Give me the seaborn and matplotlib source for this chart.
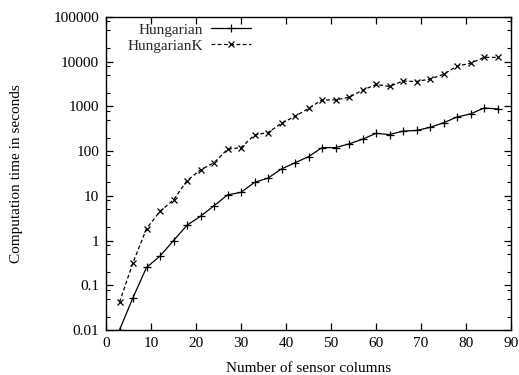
import matplotlib
matplotlib.use("Agg")
import matplotlib.pyplot as plt
import seaborn as sns
import pandas as pd
from matplotlib.ticker import LogLocator, FixedLocator, NullFormatter

columns = [3, 6, 9, 12, 15, 18, 21, 24, 27, 30, 33, 36, 39, 42, 45, 48, 51, 54,
           57, 60, 63, 66, 69, 72, 75, 78, 81, 84, 87]
hungarian = [0.01, 0.053, 0.25, 0.45, 1.0, 2.2, 3.5, 6.0, 10.5, 12, 20, 25, 40,
             55, 75, 120, 120, 145, 185, 250, 235, 280, 290, 340, 430, 580, 680,
             920, 880]
hungarian_k = [0.042, 0.32, 1.85, 4.5, 8.1, 22, 38, 55, 110, 120, 230, 260, 420,
               600, 900, 1400, 1400, 1600, 2300, 3100, 2800, 3700, 3600, 4100,
               5200, 8000, 9200, 12500, 12500]
series_names = ["Hungarian", "HungarianK"]
x_ticks = [0, 10, 20, 30, 40, 50, 60, 70, 80, 90]
y_ticks = [0.01, 0.1, 1, 10, 100, 1000, 10000, 100000]
y_tick_labels = ["0.01", "0.1", "1", "10", "100", "1000", "10000", "100000"]

sns.set_theme(style="ticks")
plt.rcParams["font.family"] = ["Liberation Serif", "DejaVu Serif"]
plt.rcParams["font.size"] = 11

fig = plt.figure(figsize=(5.19, 3.75), dpi=100)
ax = fig.add_axes([106/519, 1-330/375, (511-106)/519, (330-17)/375])

df1 = pd.DataFrame({"x": columns, "y": hungarian})
df2 = pd.DataFrame({"x": columns, "y": hungarian_k})
sns.lineplot(data=df1, x="x", y="y", ax=ax, color="black", lw=0.9,
             marker="+", markersize=5.5, markeredgewidth=0.9, markeredgecolor="black",
             label=series_names[0])
sns.lineplot(data=df2, x="x", y="y", ax=ax, color="black", lw=0.9,
             linestyle=(0, (3, 2)), marker="x", markersize=4.5, markeredgewidth=0.9,
             markeredgecolor="black", label=series_names[1])

ax.set_yscale("log")
ax.set_xlim(0, 90)
ax.set_ylim(0.01, 100000)
ax.xaxis.set_major_locator(FixedLocator(x_ticks))
ax.set_xticklabels([str(t) for t in x_ticks])
ax.yaxis.set_major_locator(FixedLocator(y_ticks))
ax.set_yticklabels(y_tick_labels)
ax.yaxis.set_minor_locator(LogLocator(base=10, subs=[2, 5, 8], numticks=20))
ax.yaxis.set_minor_formatter(NullFormatter())

ax.tick_params(which="both", direction="in", top=True, right=True, color="black",
               labelsize=11, labelcolor="black", pad=5)
ax.tick_params(which="major", length=5, width=0.9)
ax.tick_params(which="minor", length=3, width=0.8)
for s in ax.spines.values():
    s.set_color("black")
    s.set_linewidth(1.0)

ax.set_xlabel("Number of sensor columns", fontsize=11, color="black", labelpad=9)
ax.set_ylabel("Computation time in seconds", fontsize=11, color="black", labelpad=22)

leg = ax.legend(loc="upper left", markerfirst=False, frameon=False, fontsize=11,
                handlelength=2.6, handletextpad=0.55, labelspacing=0.15,
                bbox_to_anchor=(0.03, 1.01), borderaxespad=0.2)

fig.savefig("out.png", dpi=100)
